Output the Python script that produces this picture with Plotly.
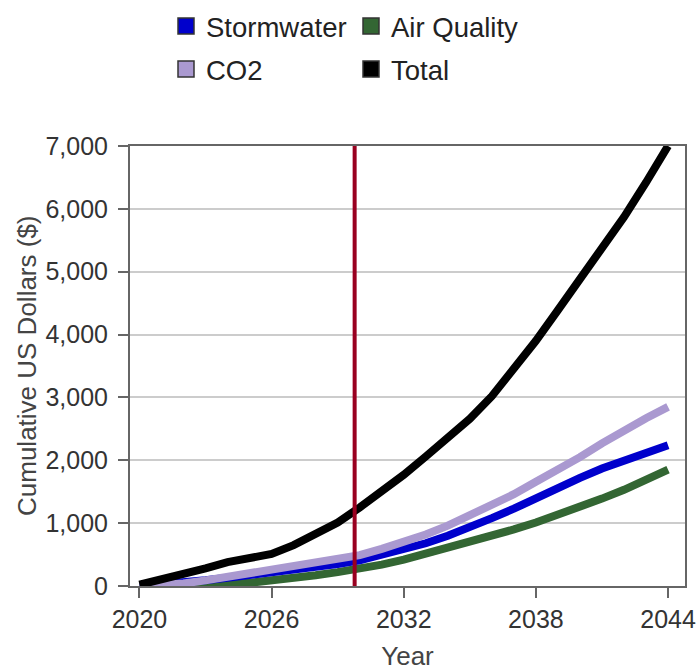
import plotly.graph_objects as go

years = list(range(2020, 2045))
stormwater = [0, 20, 50, 90, 130, 170, 210, 250, 300, 350, 410, 490, 580, 680, 800, 930,
              1080, 1230, 1400, 1560, 1720, 1870, 2000, 2120, 2240]
air_quality = [0, 0, 0, 10, 30, 50, 80, 120, 170, 220, 270, 340, 420, 510, 600, 700,
               800, 900, 1010, 1130, 1260, 1390, 1530, 1690, 1850]
co2 = [0, 10, 40, 90, 150, 200, 250, 300, 360, 420, 490, 590, 700, 820, 960, 1120,
       1280, 1460, 1660, 1850, 2050, 2270, 2480, 2670, 2850]
total = [20, 100, 180, 280, 380, 450, 510, 650, 820, 1010, 1250, 1500, 1770, 2060, 2350, 2660,
         3020, 3440, 3900, 4390, 4870, 5360, 5870, 6420, 7000]
marker_year = 2029.77
x_ticks = [2020, 2026, 2032, 2038, 2044]
y_ticks = [0, 1000, 2000, 3000, 4000, 5000, 6000, 7000]
y_tick_labels = ["0", "1,000", "2,000", "3,000", "4,000", "5,000", "6,000", "7,000"]

series = [
    ("Air Quality", air_quality, "#336633"),
    ("Stormwater", stormwater, "#0000cc"),
    ("CO2", co2, "#aa99d0"),
    ("Total", total, "#000000"),
]

FONT = "Liberation Sans"
W, H = 697, 672
L, R, T, B = 130, 12, 146, 86

fig = go.Figure()
for name, vals, color in series:
    fig.add_trace(go.Scatter(x=years, y=vals, mode="lines", name=name,
                             line=dict(color=color, width=8), showlegend=False))

legend_rows = {
    "legend": [("Stormwater", "#0000cc"), ("Air Quality", "#336633")],
    "legend2": [("CO2", "#aa99d0"), ("Total", "#000000")],
}
for lg, items in legend_rows.items():
    for name, color in items:
        fig.add_trace(go.Scatter(x=[None], y=[None], mode="markers", name=name,
                                 marker=dict(symbol="square", size=16, color=color,
                                             line=dict(color="#333333", width=1.5)),
                                 legend=lg, showlegend=True))

fig.add_shape(type="line", x0=marker_year, x1=marker_year, y0=0, y1=1, xref="x", yref="paper",
              line=dict(color="#990020", width=4), layer="above")

fig.add_annotation(text="Cumulative US Dollars ($)", textangle=-90, xref="paper", yref="paper",
                   x=(27 - L) / (W - L - R), y=0.5, xanchor="center", yanchor="middle",
                   showarrow=False, font=dict(family=FONT, size=26, color="#444444"))

legend_common = dict(orientation="h", xanchor="left", yanchor="middle",
                     xref="container", yref="container", x=166 / W,
                     font=dict(family=FONT, size=27.5, color="#222222"),
                     bgcolor="rgba(0,0,0,0)", entrywidth=140, entrywidthmode="pixels",
                     itemclick=False, tracegroupgap=0)

fig.update_layout(
    width=W, height=H,
    margin=dict(l=L, r=R, t=T, b=B, autoexpand=False),
    paper_bgcolor="white", plot_bgcolor="white",
    font=dict(family=FONT, size=25, color="#333333"),
    legend=dict(y=1 - 26 / H, **legend_common),
    legend2=dict(y=1 - 69 / H, **legend_common),
    xaxis=dict(range=[2019.57, 2044.77], tickvals=x_ticks, ticktext=[str(t) for t in x_ticks],
               showgrid=False, zeroline=False, showline=True, linecolor="#666666", linewidth=2,
               mirror=True, ticks="outside", ticklen=10, tickwidth=2, tickcolor="#666666",
               automargin=False,
               tickfont=dict(family=FONT, size=25, color="#333333"),
               title=dict(text="Year", font=dict(family=FONT, size=26, color="#444444"), standoff=15)),
    yaxis=dict(range=[0, 7000], tickvals=y_ticks, ticktext=y_tick_labels,
               showgrid=True, gridcolor="#cccccc", gridwidth=2, zeroline=False,
               showline=True, linecolor="#666666", linewidth=2, mirror=True,
               ticks="outside", ticklen=10, tickwidth=2, tickcolor="#666666",
               ticklabelstandoff=5, automargin=False,
               tickfont=dict(family=FONT, size=25, color="#333333")),
)

fig.write_html("out.html", config={"displayModeBar": False},
               post_script="document.body.style.margin='0';document.body.style.padding='0';")
